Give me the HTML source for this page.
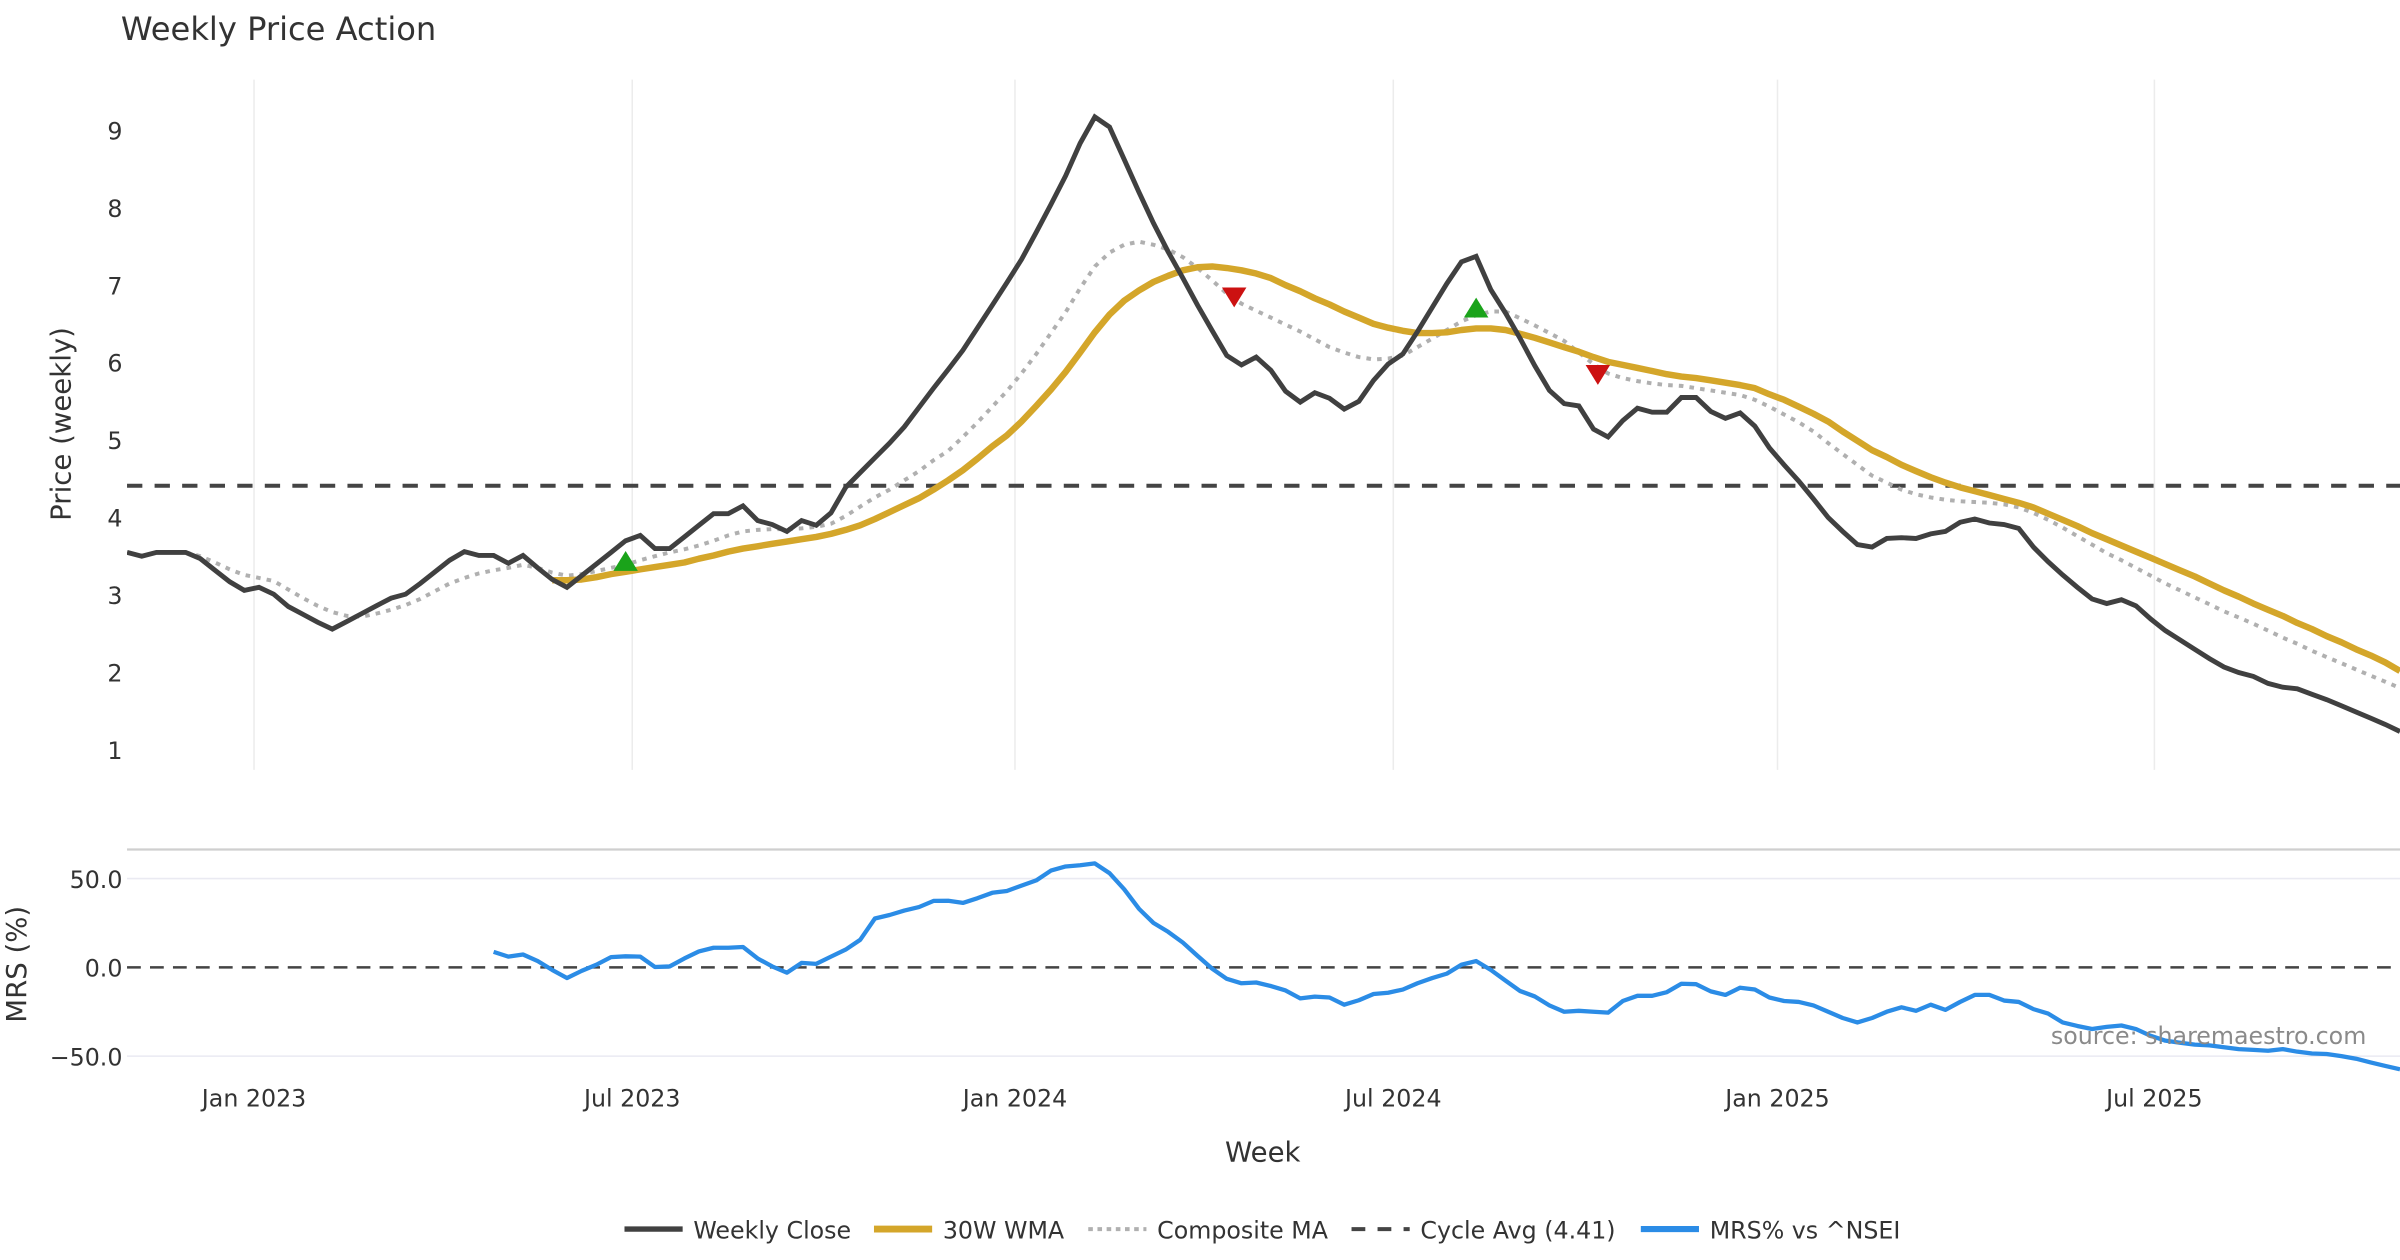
<!DOCTYPE html>
<html><head><meta charset="utf-8"><style>
html,body{margin:0;padding:0;background:#fff;}
svg{display:block;font-family:"DejaVu Sans","Liberation Sans",sans-serif;}
</style></head><body>
<svg id="chart" width="2400" height="1260" viewBox="0 0 1568 823.2" preserveAspectRatio="none" xmlns="http://www.w3.org/2000/svg">
<defs>
<clipPath id="clipTop"><rect x="83" y="50" width="1485" height="455"/></clipPath>
<clipPath id="clipBot"><rect x="83" y="556" width="1485" height="148"/></clipPath>
</defs>
<rect width="1568" height="823.2" fill="#fff"/>
<text x="79" y="26" font-size="21" fill="#333">Weekly Price Action</text>
<g id="grid"></g>
<line x1="83" y1="555" x2="1568" y2="555" stroke="#cfcfcf" stroke-width="1.5"/>
<g id="series"></g>
<text transform="translate(46,277) rotate(-90)" text-anchor="middle" font-size="18" fill="#333">Price (weekly)</text>
<text transform="translate(17,630) rotate(-90)" text-anchor="middle" font-size="18" fill="#333">MRS (%)</text>
<text x="825" y="759" text-anchor="middle" font-size="18" fill="#333">Week</text>
<text x="1546" y="682" text-anchor="end" font-size="15.5" fill="#8a8a8a">source: sharemaestro.com</text>
<g id="legend"></g>
</svg>
<script>
const closeVals=[3.55,3.50,3.55,3.55,3.55,3.47,3.32,3.17,3.06,3.10,3.01,2.85,2.75,2.65,2.56,2.66,2.76,2.86,2.96,3.01,3.15,3.30,3.45,3.56,3.51,3.51,3.41,3.51,3.35,3.20,3.10,3.25,3.40,3.55,3.70,3.77,3.60,3.60,3.75,3.90,4.05,4.05,4.15,3.96,3.91,3.82,3.96,3.90,4.06,4.39,4.58,4.77,4.96,5.17,5.42,5.67,5.91,6.16,6.45,6.74,7.03,7.33,7.68,8.04,8.41,8.83,9.17,9.04,8.62,8.20,7.80,7.43,7.09,6.74,6.41,6.09,5.97,6.07,5.90,5.63,5.49,5.61,5.54,5.40,5.50,5.77,5.98,6.11,6.40,6.71,7.02,7.30,7.37,6.94,6.64,6.31,5.96,5.64,5.47,5.44,5.14,5.04,5.25,5.41,5.36,5.36,5.55,5.55,5.37,5.28,5.35,5.18,4.90,4.68,4.47,4.24,4.00,3.82,3.65,3.62,3.73,3.74,3.73,3.79,3.82,3.94,3.98,3.93,3.91,3.86,3.62,3.43,3.26,3.10,2.95,2.89,2.94,2.86,2.69,2.54,2.42,2.30,2.18,2.07,2.00,1.95,1.86,1.81,1.79,1.72,1.65,1.57,1.49,1.41,1.33,1.24];
const wmaStart=29;
const wmaVals=[3.19,3.19,3.20,3.23,3.27,3.30,3.33,3.36,3.39,3.42,3.47,3.51,3.56,3.60,3.63,3.66,3.69,3.72,3.75,3.79,3.84,3.90,3.98,4.07,4.16,4.25,4.36,4.48,4.61,4.76,4.92,5.06,5.24,5.44,5.65,5.88,6.13,6.39,6.62,6.80,6.93,7.04,7.12,7.19,7.23,7.24,7.22,7.19,7.15,7.09,7.00,6.92,6.83,6.75,6.66,6.58,6.50,6.45,6.41,6.38,6.38,6.39,6.42,6.44,6.44,6.42,6.37,6.32,6.26,6.20,6.14,6.07,6.01,5.97,5.93,5.89,5.85,5.82,5.80,5.77,5.74,5.71,5.67,5.59,5.52,5.43,5.34,5.24,5.11,4.99,4.87,4.78,4.68,4.60,4.52,4.45,4.39,4.34,4.29,4.24,4.19,4.13,4.05,3.97,3.89,3.80,3.72,3.64,3.56,3.48,3.40,3.32,3.24,3.15,3.06,2.98,2.89,2.81,2.73,2.64,2.56,2.47,2.39,2.30,2.22,2.13,2.02];
const compStart=4;
const compVals=[3.55,3.50,3.42,3.33,3.26,3.22,3.18,3.07,2.96,2.86,2.78,2.73,2.72,2.76,2.81,2.87,2.95,3.05,3.15,3.22,3.28,3.32,3.35,3.39,3.35,3.29,3.25,3.27,3.31,3.35,3.39,3.45,3.50,3.55,3.59,3.64,3.70,3.77,3.82,3.84,3.85,3.85,3.86,3.88,3.92,4.02,4.14,4.26,4.36,4.48,4.60,4.74,4.86,5.04,5.23,5.43,5.63,5.86,6.11,6.38,6.65,6.96,7.24,7.42,7.52,7.56,7.52,7.46,7.36,7.22,7.06,6.89,6.76,6.67,6.58,6.49,6.40,6.30,6.20,6.13,6.07,6.04,6.05,6.09,6.20,6.31,6.42,6.53,6.61,6.66,6.66,6.57,6.48,6.38,6.28,6.13,5.98,5.86,5.80,5.76,5.73,5.71,5.70,5.67,5.64,5.61,5.58,5.52,5.43,5.33,5.23,5.11,4.96,4.82,4.68,4.54,4.45,4.36,4.30,4.26,4.23,4.21,4.20,4.19,4.17,4.13,4.06,3.97,3.87,3.76,3.65,3.54,3.45,3.35,3.25,3.15,3.06,2.97,2.88,2.79,2.71,2.63,2.54,2.45,2.37,2.28,2.20,2.12,2.04,1.96,1.88,1.80];
const mrsStart=25;
const mrsVals=[8.7,6.0,7.2,3.5,-1.5,-6.0,-2.0,1.5,5.8,6.2,6.0,0.2,0.5,5.0,9.0,11.0,11.0,11.5,5.0,0.5,-3.0,2.5,2.0,6.0,10.0,15.5,27.5,29.5,32.0,34.0,37.4,37.5,36.3,39.0,42.0,43.0,46.0,49.0,54.5,56.8,57.5,58.5,53.0,44.0,33.0,25.0,20.0,14.0,6.5,-0.8,-6.5,-9.0,-8.5,-10.5,-13.0,-17.5,-16.5,-17.0,-21.0,-18.5,-15.0,-14.3,-12.5,-9.0,-6.0,-3.5,1.5,3.5,-1.5,-7.5,-13.4,-16.4,-21.5,-25.0,-24.5,-25.0,-25.5,-19.0,-16.0,-16.0,-14.0,-9.2,-9.5,-13.5,-15.5,-11.5,-12.5,-17.0,-19.0,-19.5,-21.5,-25.0,-28.5,-31.0,-28.5,-25.0,-22.5,-24.5,-21.0,-24.0,-19.5,-15.5,-15.5,-18.7,-19.5,-23.5,-26.0,-31.0,-33.0,-34.7,-33.5,-32.8,-34.7,-38.5,-41.3,-42.5,-43.5,-44.0,-45.0,-46.0,-46.5,-47.0,-46.0,-47.5,-48.5,-48.8,-50.0,-51.5,-53.5,-55.5,-57.4];
const cycleAvg=4.41;
const buyIdx=[34,92];
const buyVals=[3.43,6.70];
const sellIdx=[75.5,100.3];
const sellVals=[6.85,5.85];
const xTickLabels=["Jan 2023","Jul 2023","Jan 2024","Jul 2024","Jan 2025","Jul 2025"];
const xTickWeeks=[8.66,34.45,60.55,86.35,112.55,138.25];
const priceTicks=[1,2,3,4,5,6,7,8,9];
const mrsTicks=[50,0,-50];
const mrsTickLabels=["50.0","0.0","\u221250.0"];

const NS="http://www.w3.org/2000/svg";
const N=closeVals.length;
function xS(i){return 83+i*(1485/(N-1));}
function yP(v){return 490-(v-1)*50.625;}
function yM(v){return 632-v*1.16;}
function mk(tag,attrs,parent){const e=document.createElementNS(NS,tag);for(const k in attrs)e.setAttribute(k,attrs[k]);parent.appendChild(e);return e;}
const grid=document.getElementById('grid');
const ser=document.getElementById('series');
const leg=document.getElementById('legend');

xTickWeeks.forEach((w,k)=>{
  const x=xS(w);
  const g1=mk('line',{x1:x,y1:52,x2:x,y2:503,stroke:'#ececec','stroke-width':1},grid);
  
  
  const t=mk('text',{x:x,y:723,'text-anchor':'middle','font-size':15.5,fill:'#333'},grid);
  t.textContent=xTickLabels[k];
  
  
});
priceTicks.forEach(v=>{
  const t=mk('text',{x:80,y:yP(v)+6,'text-anchor':'end','font-size':15.5,fill:'#333'},grid);
  t.textContent=String(v);
  
  
});
mrsTicks.forEach((v,k)=>{
  if(v!==0){
    const gl=mk('line',{x1:83,y1:yM(v),x2:1568,y2:yM(v),stroke:'#eaeaf2','stroke-width':1},grid);
    
    
  }
  const t=mk('text',{x:80,y:yM(v)+6,'text-anchor':'end','font-size':15.5,fill:'#333'},grid);
  t.textContent=mrsTickLabels[k];
  
  
});

function pathFrom(vals,start,yf){return vals.map((v,j)=>(j?'L':'M')+xS(start+j).toFixed(1)+','+yf(v).toFixed(1)).join(' ');}
const gTop=mk('g',{'clip-path':'url(#clipTop)'},ser);
const gBot=mk('g',{'clip-path':'url(#clipBot)'},ser);

const cyc=mk('line',{x1:83,x2:1568,y1:yP(cycleAvg),y2:yP(cycleAvg),stroke:'#444','stroke-width':2.6,'stroke-dasharray':'10,8'},gTop);


const comp=mk('path',{d:pathFrom(compVals,compStart,yP),fill:'none',stroke:'#b0b0b0','stroke-width':2.6,'stroke-dasharray':'3,4'},gTop);


const wma=mk('path',{d:pathFrom(wmaVals,wmaStart,yP),fill:'none',stroke:'#d4a62a','stroke-width':4.2,'stroke-linejoin':'round'},gTop);


const cl=mk('path',{d:pathFrom(closeVals,0,yP),fill:'none',stroke:'#404040','stroke-width':3.2,'stroke-linejoin':'miter'},gTop);



buyIdx.forEach((w,k)=>{
  const x=xS(w),y=yP(buyVals[k]);
  const p=mk('polygon',{points:`${x-8},${y+6} ${x+8},${y+6} ${x},${y-7}`,fill:'#1aa31a'},gTop);
  
  
});
sellIdx.forEach((w,k)=>{
  const x=xS(w),y=yP(sellVals[k]);
  const p=mk('polygon',{points:`${x-8},${y-6} ${x+8},${y-6} ${x},${y+7}`,fill:'#cc1111'},gTop);
  
  
});

const zl=mk('line',{x1:83,x2:1568,y1:yM(0),y2:yM(0),stroke:'#444','stroke-width':1.6,'stroke-dasharray':'9,6'},gBot);


const mrs=mk('path',{d:pathFrom(mrsVals,mrsStart,yM),fill:'none',stroke:'#2b8ce6','stroke-width':2.8,'stroke-linejoin':'round'},gBot);



const legendItems=[
 {x:408,t:'Weekly Close',s:'#404040',w:3.5,d:'',n:'legend-weekly-close'},
 {x:571,t:'30W WMA',s:'#d4a62a',w:4.5,d:'',n:'legend-30w-wma'},
 {x:711,t:'Composite MA',s:'#b0b0b0',w:2.6,d:'3,3',n:'legend-composite-ma'},
 {x:883,t:'Cycle Avg (4.41)',s:'#444',w:2.6,d:'9,8',n:'legend-cycle-avg'},
 {x:1072,t:'MRS% vs ^NSEI',s:'#2b8ce6',w:4,d:'',n:'legend-mrs'}];
legendItems.forEach(it=>{
  const g=mk('g',{},leg);
  
  
  const a={x1:it.x,x2:it.x+38,y1:803,y2:803,stroke:it.s,'stroke-width':it.w};
  if(it.d)a['stroke-dasharray']=it.d;
  mk('line',a,g);
  const t=mk('text',{x:it.x+45,y:809,'font-size':15.5,fill:'#333'},g);
  t.textContent=it.t;
});
</script>
</body></html>
